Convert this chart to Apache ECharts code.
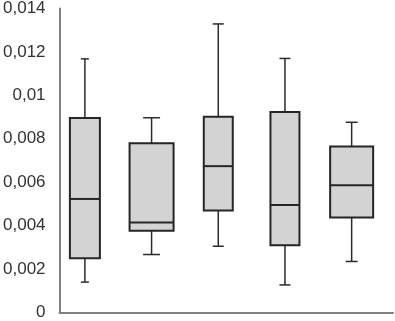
<!DOCTYPE html>
<html>
<head>
<meta charset="utf-8">
<script src="https://cdn.jsdelivr.net/npm/echarts@6/dist/echarts.min.js"></script>
<style>
  html, body { margin: 0; padding: 0; background: #fff; }
  #chart { width: 395px; height: 321px; }
</style>
</head>
<body>
<div id="chart"></div>
<script>
// five boxes, left to right
const mins = [0.0014, 0.00267, 0.00305, 0.00127, 0.00235];
const q1s = [0.0025, 0.00376, 0.0047, 0.0031, 0.00438];
const medians = [0.00523, 0.00414, 0.00674, 0.00495, 0.00586];
const q3s = [0.00896, 0.0078, 0.00901, 0.00923, 0.00764];
const maxs = [0.01168, 0.00897, 0.01329, 0.0117, 0.00876];
const yTicks = [0, 0.002, 0.004, 0.006, 0.008, 0.01, 0.012, 0.014];

// drawing styles (px)
const boxWidths = [30, 44, 29, 29, 43];
const capWidths = [8, 17, 11, 11, 12];

const chart = echarts.init(document.getElementById("chart"));

const boxData = mins.map((v, i) => [i, mins[i], q1s[i], medians[i], q3s[i], maxs[i]]);

function renderBox(params, api) {
  const i = params.dataIndex;
  const x = api.value(0);
  const pMin = api.coord([x, api.value(1)]);
  const pQ1 = api.coord([x, api.value(2)]);
  const pMed = api.coord([x, api.value(3)]);
  const pQ3 = api.coord([x, api.value(4)]);
  const pMax = api.coord([x, api.value(5)]);
  const cx = pMed[0];
  const bw = boxWidths[i];
  const cw = capWidths[i];
  const whisker = { stroke: "#2b2b2b", lineWidth: 1.5 };
  const edge = { stroke: "#262626", lineWidth: 2 };
  return {
    type: "group",
    children: [
      { type: "line", shape: { x1: cx, y1: pMax[1], x2: cx, y2: pQ3[1] }, style: whisker },
      { type: "line", shape: { x1: cx, y1: pQ1[1], x2: cx, y2: pMin[1] }, style: whisker },
      { type: "line", shape: { x1: cx - cw / 2, y1: pMax[1], x2: cx + cw / 2, y2: pMax[1] }, style: whisker },
      { type: "line", shape: { x1: cx - cw / 2, y1: pMin[1], x2: cx + cw / 2, y2: pMin[1] }, style: whisker },
      {
        type: "rect",
        shape: { x: cx - bw / 2, y: pQ3[1], width: bw, height: pQ1[1] - pQ3[1] },
        style: { fill: "#d3d3d3", stroke: "#262626", lineWidth: 2 }
      },
      { type: "line", shape: { x1: cx - bw / 2, y1: pMed[1], x2: cx + bw / 2, y2: pMed[1] }, style: edge }
    ]
  };
}

const option = {
  animation: false,
  backgroundColor: "#fff",
  grid: { left: 57, right: 2, top: 6, bottom: 7 },
  xAxis: {
    type: "value",
    min: -0.38,
    max: 4.62,
    axisLabel: { show: false },
    axisTick: { show: false },
    splitLine: { show: false },
    axisLine: { show: true, onZero: false, lineStyle: { color: "#808080", width: 2 } }
  },
  yAxis: {
    type: "value",
    min: 0,
    max: 0.014,
    interval: 0.002,
    splitLine: { show: false },
    axisTick: { show: false },
    axisLine: { show: true, onZero: false, lineStyle: { color: "#808080", width: 2 } },
    axisLabel: {
      margin: 14,
      color: "#333",
      fontSize: 17,
      fontFamily: "Liberation Sans, Arial, sans-serif",
      formatter: function (v) {
        const t = yTicks.find(k => Math.abs(k - v) < 1e-9);
        return String(t === undefined ? v : t).replace(".", ",");
      }
    }
  },
  series: [
    {
      type: "custom",
      renderItem: renderBox,
      encode: { x: 0, y: [1, 2, 3, 4, 5] },
      data: boxData
    }
  ]
};

chart.setOption(option);
</script>
</body>
</html>
